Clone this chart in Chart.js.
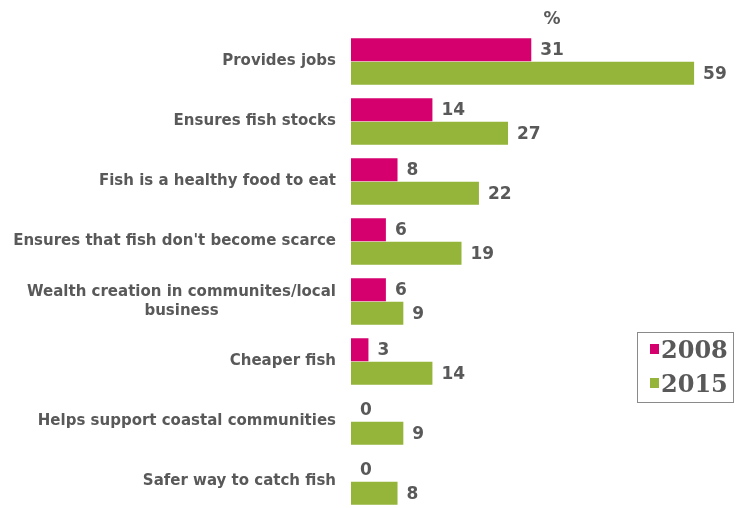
<!DOCTYPE html>
<html>
<head>
<meta charset="utf-8">
<script src="https://cdn.jsdelivr.net/npm/chart.js@4"></script>
<style>
  html, body { margin: 0; padding: 0; background: #fff; overflow: hidden; }
  #wrap { width: 739px; height: 512px; }
</style>
</head>
<body>
<div id="wrap"><canvas id="myChart" width="739" height="512"></canvas></div>
<script>
// categorias (multilinea = array)
var categorias = [
    'Provides jobs',
    'Ensures fish stocks',
    'Fish is a healthy food to eat',
    "Ensures that fish don't become scarce",
    ['Wealth creation in communites/local', 'business'],
    'Cheaper fish',
    'Helps support coastal communities',
    'Safer way to catch fish'
];
var valores2008 = [31, 14, 8, 6, 6, 3, 0, 0];
var valores2015 = [59, 27, 22, 19, 9, 14, 9, 8];
var series = ['2008', '2015'];

var colorRosa = '#d5006d';
var colorVerde = '#95b43a';
var colorTexto = '#595959';

// etiquetas de categoria, cada linea centrada dentro del bloque
var etiquetasY = {
    id: 'etiquetasY',
    afterDraw: function (chart) {
        var ctx = chart.ctx;
        var y = chart.scales.y;
        ctx.save();
        ctx.font = 'bold 15px "DejaVu Sans"';
        ctx.fillStyle = colorTexto;
        ctx.textAlign = 'center';
        ctx.textBaseline = 'middle';
        var derecha = 336;
        chart.data.labels.forEach(function (lab, i) {
            var lineas = Array.isArray(lab) ? lab : [lab];
            var ancho = Math.max.apply(null, lineas.map(function (l) { return ctx.measureText(l).width; }));
            var cx = derecha - ancho / 2;
            var cy = y.getPixelForTick(i);
            var alto = 19;
            var y0 = cy - (lineas.length - 1) * alto / 2;
            lineas.forEach(function (l, k) {
                ctx.fillText(l, cx, y0 + k * alto);
            });
        });
        ctx.restore();
    }
};

// valores al final de cada barra + "%" + leyenda
var valores = {
    id: 'valores',
    afterDatasetsDraw: function (chart) {
        var ctx = chart.ctx;
        ctx.save();
        ctx.font = 'bold 17px "DejaVu Sans"';
        ctx.fillStyle = colorTexto;
        ctx.textAlign = 'left';
        ctx.textBaseline = 'middle';
        chart.data.datasets.forEach(function (ds, d) {
            chart.getDatasetMeta(d).data.forEach(function (bar, i) {
                ctx.fillText(String(ds.data[i]), bar.x + 9, bar.y + 1);
            });
        });
        ctx.textAlign = 'center';
        ctx.fillText('%', 552, 20);

        // leyenda
        ctx.strokeStyle = '#8a8a8a';
        ctx.lineWidth = 1;
        ctx.strokeRect(637.5, 332.5, 96, 70);
        ctx.font = 'bold 24px "DejaVu Serif"';
        ctx.textAlign = 'left';
        ctx.textBaseline = 'alphabetic';
        var colores = [colorRosa, colorVerde];
        series.forEach(function (s, k) {
            var base = 358 + k * 34;
            ctx.fillStyle = colores[k];
            ctx.fillRect(650, base - 14, 9, 10);
            ctx.fillStyle = colorTexto;
            ctx.fillText(s, 661, base);
        });
        ctx.restore();
    }
};

var ctx = document.getElementById('myChart').getContext('2d');
var myChart = new Chart(ctx, {
    type: 'bar',
    data: {
        labels: categorias,
        datasets: [{
            label: series[0],
            data: valores2008,
            backgroundColor: colorRosa,
            categoryPercentage: 0.78,
            barPercentage: 0.98
        }, {
            label: series[1],
            data: valores2015,
            backgroundColor: colorVerde,
            categoryPercentage: 0.78,
            barPercentage: 0.98
        }]
    },
    options: {
        indexAxis: 'y',
        responsive: false,
        animation: false,
        layout: { padding: { top: 31.5, right: 10, bottom: 0.5, left: 0 } },
        plugins: {
            legend: { display: false },
            tooltip: { enabled: false }
        },
        scales: {
            x: {
                display: false,
                min: 0,
                max: 65
            },
            y: {
                display: true,
                ticks: { display: false },
                grid: { display: false },
                border: { display: false },
                afterFit: function (s) { s.width = 351; }
            }
        }
    },
    plugins: [etiquetasY, valores]
});
</script>
</body>
</html>
